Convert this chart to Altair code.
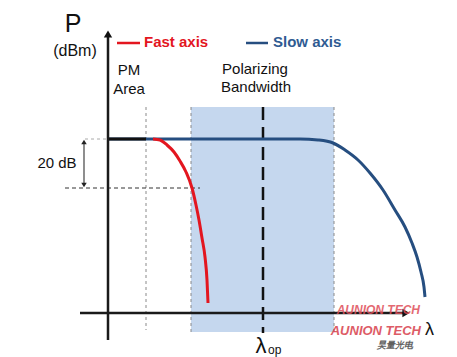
import altair as alt
import pandas as pd

W, H = 457, 357

# ---- schematic data (diagram units, y grows downward) ----
fast_x = [153, 160, 167, 174, 180, 186, 192, 196, 199, 202, 205, 207, 208]
fast_y = [139, 140, 145, 152, 161, 172, 188, 205, 220, 238, 257, 280, 303]

slow_x = [108, 250, 300, 318, 333, 345, 358, 370, 383, 395, 405, 412, 417, 421, 424, 425]
slow_y = [139, 139, 139, 140, 143, 150, 160, 173, 190, 210, 227, 243, 257, 272, 287, 297]

band_x = [191, 334]
band_y = [107, 332]
lam_op = 263
pm_x = 146
top_level = 139
level_20db = 188
axis_x = 108
axis_y = 313

RED = "#e3161f"
BLUE = "#264e80"
SHADE = "#c5d7ee"
FONT = "Liberation Sans"

xs = alt.Scale(domain=[0, W], nice=False, zero=False)
ys = alt.Scale(domain=[0, H], nice=False, zero=False, reverse=True)

def X(f="x"):
    return alt.X(f"{f}:Q", scale=xs, axis=None)

def Y(f="y"):
    return alt.Y(f"{f}:Q", scale=ys, axis=None)

# shaded polarizing bandwidth
band = alt.Chart(pd.DataFrame({"x": [band_x[0]], "x2": [band_x[1]], "y": [band_y[0]], "y2": [band_y[1]]})).mark_rect(
    color=SHADE).encode(x=X(), x2="x2:Q", y=Y(), y2="y2:Q")

# thin grey dashed verticals
vdash = alt.Chart(pd.DataFrame({"x": [pm_x, band_x[0], band_x[1]], "y": [107, 107, 107], "y2": [330, 332, 332]})).mark_rule(
    color="#8a8a8a", strokeWidth=1, strokeDash=[3, 3]).encode(x=X(), y=Y(), y2="y2:Q")

# lambda_op dashed line
lop = alt.Chart(pd.DataFrame({"x": [lam_op], "y": [107], "y2": [333]})).mark_rule(
    color="#111111", strokeWidth=2.5, strokeDash=[13, 7]).encode(x=X(), y=Y(), y2="y2:Q")

# 20 dB helper dashed lines
hdash1 = alt.Chart(pd.DataFrame({"x": [65], "x2": [200], "y": [level_20db]})).mark_rule(
    color="#333333", strokeWidth=1, strokeDash=[4, 3]).encode(x=X(), x2="x2:Q", y=Y())
hdash0 = alt.Chart(pd.DataFrame({"x": [85], "x2": [108], "y": [top_level]})).mark_rule(
    color="#aaaaaa", strokeWidth=1, strokeDash=[3, 3]).encode(x=X(), x2="x2:Q", y=Y())
dbl = alt.Chart(pd.DataFrame({"x": [84], "y": [143], "y2": [184]})).mark_rule(
    color="#444444", strokeWidth=1.2).encode(x=X(), y=Y(), y2="y2:Q")
dbl_heads = alt.Chart(pd.DataFrame({"x": [84, 84], "y": [142, 185], "s": ["triangle-up", "triangle-down"]})).mark_point(
    filled=True, color="#222222", size=30, opacity=1).encode(x=X(), y=Y(), shape=alt.Shape("s:N", scale=None))

# axes
yaxis = alt.Chart(pd.DataFrame({"x": [axis_x], "y": [36], "y2": [340]})).mark_rule(
    color="#1a1a1a", strokeWidth=2.5).encode(x=X(), y=Y(), y2="y2:Q")
xaxis = alt.Chart(pd.DataFrame({"x": [80], "x2": [404], "y": [axis_y]})).mark_rule(
    color="#1a1a1a", strokeWidth=2.5).encode(x=X(), x2="x2:Q", y=Y())
heads = alt.Chart(pd.DataFrame({"x": [axis_x, 406], "y": [34, axis_y], "s": ["triangle-up", "triangle-right"]})).mark_point(
    filled=True, color="#111111", size=70, opacity=1).encode(x=X(), y=Y(), shape=alt.Shape("s:N", scale=None))

# curves
curves_df = pd.concat([
    pd.DataFrame({"x": slow_x, "y": slow_y, "s": "slow", "o": range(len(slow_x))}),
    pd.DataFrame({"x": fast_x, "y": fast_y, "s": "fast", "o": range(len(fast_x))}),
])
curves = alt.Chart(curves_df).mark_line(strokeWidth=3, interpolate="monotone").encode(
    x=X(), y=Y(), order="o:Q",
    color=alt.Color("s:N", scale=alt.Scale(domain=["slow", "fast"], range=[BLUE, RED]), legend=None),
    detail="s:N")
black_seg = alt.Chart(pd.DataFrame({"x": [axis_x], "x2": [pm_x], "y": [top_level]})).mark_rule(
    color="#111111", strokeWidth=3).encode(x=X(), x2="x2:Q", y=Y())

# legend lines
leg_lines = alt.Chart(pd.DataFrame({"x": [117, 246], "x2": [140, 268], "y": [43, 43], "c": [RED, BLUE]})).mark_rule(
    strokeWidth=2.5).encode(x=X(), x2="x2:Q", y=Y(), color=alt.Color("c:N", scale=None))

# texts
t_plain = pd.DataFrame({
    "t": ["P", "(dBm)", "PM", "Area", "Polarizing", "Bandwidth", "20 dB"],
    "x": [73, 75, 129, 129, 255, 256, 57],
    "y": [24, 51, 70, 89, 69, 87, 163],
    "s": [25, 16, 15, 15, 15, 15, 15],
})
plain = alt.Chart(t_plain).mark_text(font=FONT, color="#111111", align="center", baseline="middle").encode(
    x=X(), y=Y(), text="t:N", size=alt.Size("s:Q", scale=None))

lam_end = alt.Chart(pd.DataFrame({"x": [425], "y": [330], "t": ["λ"]})).mark_text(
    font=FONT, fontSize=18, color="#111111", align="left", baseline="middle").encode(x=X(), y=Y(), text="t:N")

lop_l = alt.Chart(pd.DataFrame({"x": [261], "y": [346], "t": ["λ"]})).mark_text(
    font=FONT, fontSize=22, color="#111111", align="center", baseline="middle").encode(x=X(), y=Y(), text="t:N")
lop_s = alt.Chart(pd.DataFrame({"x": [268], "y": [350], "t": ["op"]})).mark_text(
    font=FONT, fontSize=12, color="#111111", align="left", baseline="middle").encode(x=X(), y=Y(), text="t:N")

leg_text = alt.Chart(pd.DataFrame({"x": [144, 273], "y": [42, 42], "t": ["Fast axis", "Slow axis"], "c": [RED, "#2f5b92"]})).mark_text(
    font=FONT, fontSize=15, fontWeight="bold", align="left", baseline="middle").encode(
    x=X(), y=Y(), text="t:N", color=alt.Color("c:N", scale=None))

# watermark logo (bottom right)
logo = alt.Chart(pd.DataFrame({
    "x": [420, 421, 413],
    "y": [310, 331, 345],
    "t": ["AUNION TECH", "AUNION TECH", "昊量光电"],
    "c": ["#e0505a", "#d8404c", "#444444"],
    "s": [12, 13, 9],
})).mark_text(font=FONT, fontStyle="italic", fontWeight="bold", align="right", baseline="middle", opacity=0.85).encode(
    x=X(), y=Y(), text="t:N", color=alt.Color("c:N", scale=None), size=alt.Size("s:Q", scale=None))

chart = alt.layer(
    band, vdash, lop, hdash1, hdash0, dbl, dbl_heads, curves, black_seg,
    yaxis, xaxis, heads, leg_lines, plain, lam_end, lop_l, lop_s, leg_text, logo
).properties(width=W, height=H, padding=0, autosize=alt.AutoSizeParams(type="none")).configure_view(stroke=None)

chart.save("out.html", embed_options={"renderer": "svg", "actions": False})
